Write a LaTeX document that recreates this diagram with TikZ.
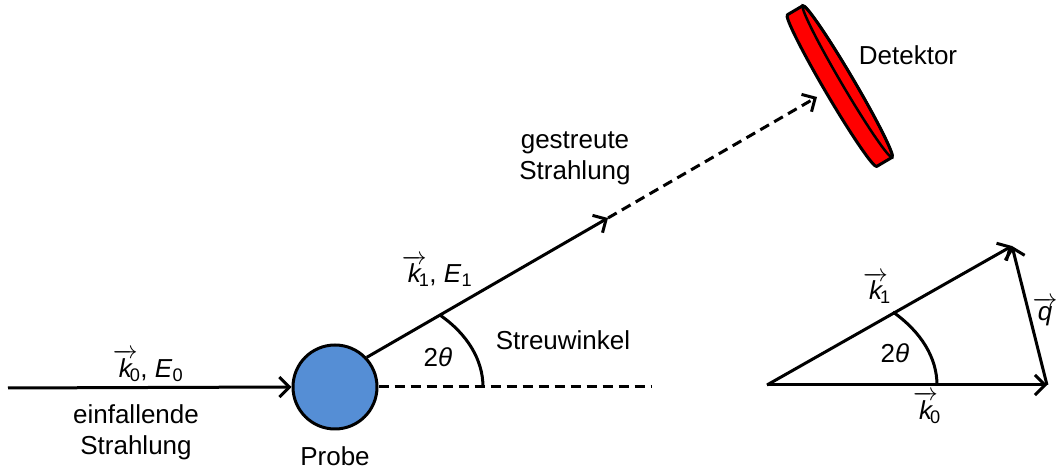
\documentclass[tikz,border=0pt]{standalone}
\usepackage{amsmath}
\usepackage{fontspec}
\setmainfont{Liberation Sans}
\usetikzlibrary{arrows.meta}
\definecolor{probeblue}{HTML}{558ED5}
\newcommand{\kv}[1]{${\overrightarrow{\text{\itshape k}}}\kern-0.3em{}_{\text{#1}}$}
\begin{document}
\begin{tikzpicture}[x=1bp,y=1bp,
  every node/.style={font=\fontsize{26bp}{31bp}\selectfont, inner sep=0pt},
  ray/.style={line width=3bp},
  arr/.style={ray,-{Straight Barb[length=10bp,width=20bp]}},
  dashray/.style={ray,dash pattern=on 10bp off 6bp}]
\useasboundingbox (0,0) rectangle (1058,472);
% sample
\node[circle, draw, line width=3bp, fill=probeblue, minimum size=84bp] (probe) at (335,85) {};
\coordinate (start) at (8,84);
\coordinate (base) at (652,85);
\coordinate (a1) at (608,254);
\coordinate (a2) at (817,375);
\draw[arr] (start) -- (probe.west);
\draw[dashray] (probe.east) -- (base);
\draw[arr] (probe.43) -- (a1);
\draw[dashray,-{Straight Barb[length=10bp,width=20bp]}] (a1) -- (a2);
\draw[ray] (483,85) arc[start angle=0,end angle=44.8,x radius=148,y radius=102];
% detector
\begin{scope}[shift={(847.5,390.5)},rotate=-59.5]
  \draw[line width=3bp,line join=round,fill=red] (-88,0) arc[start angle=180,end angle=0,x radius=88,y radius=6]
     -- (88,-18) arc[start angle=0,end angle=-180,x radius=88,y radius=6] -- cycle;
  \draw[line width=2.5bp] (0,0) ellipse[x radius=88,y radius=6];
\end{scope}
% labels
\node (lk0) at (148,106) {\kv{0}, \textit{E}\textsubscript{0}};
\node[align=center] (lein) at (136,40) {einfallende\\Strahlung};
\node (lprobe) at (335,16) {Probe};
\node (lk1) at (437,201) {\kv{1}, \textit{E}\textsubscript{1}};
\node (l2t) at (438,115) {2\textit{θ}};
\node (lstreu) at (563,132) {Streuwinkel};
\node[align=center] (lgest) at (575,314) {gestreute\\Strahlung};
\node (ldet) at (908,417) {Detektor};
% vector triangle
\coordinate (o2) at (767,87);
\coordinate (t0) at (1047,87);
\coordinate (t1) at (1012,226);
\draw[arr] (o2) -- (t0);
\draw[arr] (o2) -- (t1);
\draw[arr] (t0) -- (t1);
\draw[ray] (937,87) arc[start angle=0,end angle=42.2,x radius=170,y radius=108.7];
\node (tk1) at (877,184) {\kv{1}};
\node (t2t) at (895,119) {2\textit{θ}};
\node (tk0) at (927,64) {\kv{0}};
\node (tq) at (1045,160) {$\overrightarrow{\text{\itshape q}}$};
\end{tikzpicture}
\end{document}
